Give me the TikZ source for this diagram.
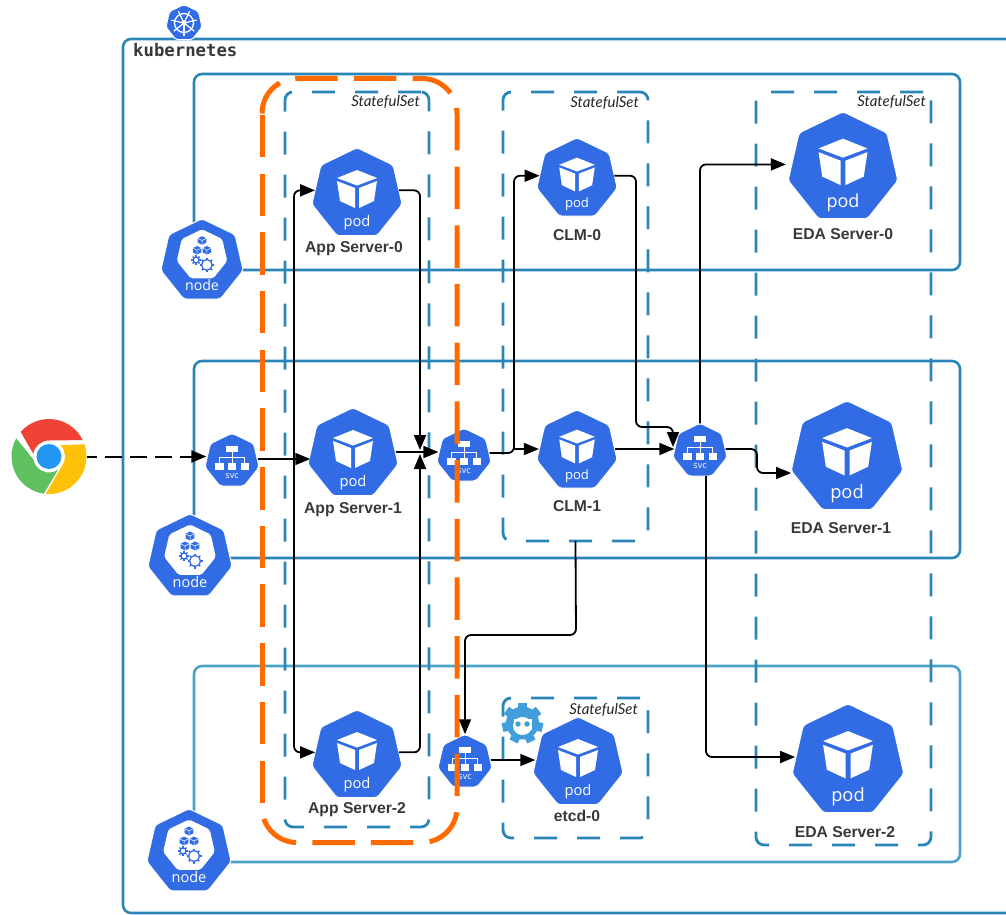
\documentclass[tikz,border=0pt]{standalone}
\usepackage{fontspec}
\setmainfont{Liberation Sans}
\newfontfamily\iconfont{Open Sans}
\newfontfamily\ssfont{Lato}
\newfontfamily\kfont{DejaVu Sans Mono}
\usetikzlibrary{arrows.meta,shapes.geometric,calc}
\definecolor{kblue}{HTML}{326CE5}
\definecolor{boxblue}{HTML}{2A86B8}
\definecolor{boxlight}{HTML}{4BA3C7}
\definecolor{kor}{HTML}{FF6A00}
\definecolor{etcdblue}{HTML}{419EDA}
\definecolor{chromegreen}{HTML}{5FC060}
\definecolor{chromeyellow}{HTML}{FFC107}
\definecolor{chromered}{HTML}{F04336}
\definecolor{chromeblue}{HTML}{2196F3}
\tikzset{
  hept/.style={regular polygon,regular polygon sides=7,fill=kblue,draw=white,line width=1pt,inner sep=0pt,outer sep=0pt,rounded corners=3pt},
  rowbox/.style={draw=boxblue,line width=2.6pt,rounded corners=8pt,inner sep=0pt,outer sep=0pt,anchor=north west},
  ssbox/.style={draw=boxblue,line width=2.8pt,rounded corners=8pt,inner sep=0pt,outer sep=0pt,anchor=north west,dash pattern=on 23pt off 20pt},
  orbox/.style={draw=kor,line width=5pt,rounded corners=35pt,dash pattern=on 42.5pt off 16.2pt},
  conn/.style={draw=black,line width=1.8pt,rounded corners=6pt,-{Triangle[length=15pt,width=12pt]}},
  lab/.style={font=\fontsize{15.7}{18}\selectfont\bfseries,text=black!78,inner sep=0pt},
  sslab/.style={font=\ssfont\fontsize{15}{17}\selectfont\itshape,text=black!85,inner sep=0pt},
  iconlab/.style={text=white,inner sep=0pt},
}
% pod icon: name, x, y, r
\newcommand{\kpod}[4]{%
  \node[hept,minimum size=#4*2pt+2.5pt] (#1) at (#2,#3) {};
  \pgfmathsetmacro\kscl{#4/45}
  \begin{scope}[shift={(#2,#3)},x=\kscl pt,y=-\kscl pt]
    \fill[white] (0,-24) -- (20,-16) -- (0,-8.5) -- (-20,-16) -- cycle;
    \fill[white] (-20,-13) -- (-2,-6) -- (-2,14) -- (-17,7) -- cycle;
    \fill[white] (20,-13) -- (2,-6) -- (2,14) -- (17,7) -- cycle;
    \node[iconlab,scale=\kscl,font=\iconfont\fontsize{14.7}{16}\selectfont] (#1-t) at (0,28.5) {pod};
  \end{scope}
}
% svc icon
\newcommand{\ksvc}[4]{%
  \node[hept,minimum size=#4*2pt+1.5pt] (#1) at (#2,#3) {};
  \pgfmathsetmacro\kscl{#4/27}
  \begin{scope}[shift={(#2,#3)},x=\kscl pt,y=-\kscl pt]
    \fill[white] (-6,-15.5) rectangle (6,-9.5);
    \fill[white] (-17,2) rectangle (-8.5,9);
    \fill[white] (-4.2,2) rectangle (4.2,9);
    \fill[white] (8.5,2) rectangle (17,9);
    \draw[white,line width=1pt] (0,-10) -- (0,2) (0,-3.5) -- (-12.7,-3.5) -- (-12.7,2) (0,-3.5) -- (12.7,-3.5) -- (12.7,2);
    \node[iconlab,scale=\kscl,font=\iconfont\fontsize{9}{10}\selectfont] (#1-t) at (0,15.5) {svc};
  \end{scope}
}
\newcommand{\kcube}[3]{%
  \fill[kblue] (#1,#2-#3) -- (#1+#3,#2-#3*0.5) -- (#1+#3,#2+#3*0.5) -- (#1,#2+#3) -- (#1-#3,#2+#3*0.5) -- (#1-#3,#2-#3*0.5) -- cycle;
  \draw[white,line width=0.5pt] (#1-#3,#2-#3*0.5) -- (#1,#2) -- (#1+#3,#2-#3*0.5) (#1,#2) -- (#1,#2+#3);
}
\newcommand{\kgear}[3]{%
  \foreach \ka in {0,45,...,315} {\draw[kblue,line width=1.4pt] ($(#1,#2)+(\ka:#3)$) -- ($(#1,#2)+(\ka:#3+2)$);}
  \draw[kblue,fill=white,line width=1.3pt] (#1,#2) circle[radius=#3];
}
% node icon
\newcommand{\knode}[4]{%
  \node[hept,minimum size=#4*2pt+2.5pt] (#1) at (#2,#3) {};
  \pgfmathsetmacro\kscl{#4/42}
  \begin{scope}[shift={(#2,#3)},x=\kscl pt,y=-\kscl pt]
    \node[regular polygon,regular polygon sides=7,fill=white,minimum size=\kscl*53pt,inner sep=0pt,rounded corners=2pt] (#1-w) at (0,-6) {};
    \kcube{0}{-21}{4.4}
    \kcube{-5}{-11}{4.4}
    \kcube{5}{-11}{4.4}
    \kgear{-6}{-1}{3}
    \kgear{5}{4}{5.5}
    \node[iconlab,scale=\kscl,font=\iconfont\fontsize{14.5}{16}\selectfont] (#1-t) at (0,25) {node};
  \end{scope}
}
\begin{document}
\begin{tikzpicture}[x=1pt,y=-1pt]
\useasboundingbox (0,0) rectangle (1006,915);
\clip (0,0) rectangle (1006,915);
% containers
\node[rowbox,minimum width=920pt,minimum height=874pt] (cluster) at (123,39) {};
\node[rowbox,minimum width=766pt,minimum height=196pt] (row0) at (194,74) {};
\node[rowbox,minimum width=766pt,minimum height=197pt] (row1) at (194,361) {};
\node[rowbox,draw=boxlight,minimum width=766pt,minimum height=196pt] (row2) at (194,666) {};
\node[ssbox,minimum width=144pt,minimum height=735pt] (ssapp) at (285,92) {};
\node[ssbox,minimum width=145pt,minimum height=449pt] (ssclm) at (503,92) {};
\node[ssbox,minimum width=175pt,minimum height=753pt] (sseda) at (756,92) {};
\node[ssbox,minimum width=145pt,minimum height=140pt] (ssetcd) at (503,698) {};
\node[sslab,anchor=east] (ssl0) at (420,102) {StatefulSet};
\node[sslab,anchor=east] (ssl1) at (639,103) {StatefulSet};
\node[sslab,anchor=east] (ssl2) at (926,102) {StatefulSet};
\node[sslab,anchor=east] (ssl3) at (638,710) {StatefulSet};
% kubernetes logo
\node[hept,minimum size=37pt,rounded corners=2pt] (klogo) at (184,23) {};
\draw[white,line width=1.3pt] (klogo.center) circle[radius=9.5];
\foreach \ka in {90,141.4,...,450} {\draw[white,line width=1.2pt] (klogo.center) -- ++(\ka:13);}
\fill[white] (klogo.center) circle[radius=2.5];
\node[font=\kfont\bfseries\fontsize{17.3}{19}\selectfont,text=black!78,anchor=west,inner sep=0pt] (ktext) at (133,50) {kubernetes};
% etcd logo
\foreach \ka in {0,51.4,...,309} {\fill[etcdblue,rotate around={\ka:(522.5,723)}] (518,702.5) rectangle (527,712);}
\fill[etcdblue] (522.5,723) circle[radius=16.5];
\fill[white] (522.5,726) ellipse[x radius=9.5,y radius=9];
\fill[white] (513.5,719) -- (531.5,719) -- (531.5,730) -- (513.5,730) -- cycle;
\fill[etcdblue] (518,724) circle[radius=2.7];
\fill[etcdblue] (527,724) circle[radius=2.7];
% icons
\kpod{app0}{357}{194}{45}
\kpod{app1}{353}{454}{45}
\kpod{app2}{357}{756}{45}
\kpod{clm0}{577}{179}{40}
\kpod{clm1}{577}{451}{40}
\kpod{eda0}{843}{168}{55}
\kpod{eda1}{847}{458}{56}
\kpod{eda2}{848}{761}{56}
\kpod{etcd0}{578}{763}{45}
\ksvc{svc0}{232}{461}{27}
\ksvc{svc1}{464}{456}{27}
\ksvc{svc2}{700}{451}{27}
\ksvc{svc3}{465}{762}{27}
\knode{n0}{202}{261}{41}
\knode{n1}{190}{557}{42}
\knode{n2}{189}{852}{42}
% labels
\node[lab] (l0) at (354,249) {App Server-0};
\node[lab] (l1) at (353,510) {App Server-1};
\node[lab] (l2) at (357,810) {App Server-2};
\node[lab] (l3) at (577,235.5) {CLM-0};
\node[lab] (l4) at (577,506.5) {CLM-1};
\node[lab] (l5) at (843,234) {EDA Server-0};
\node[lab] (l6) at (841,528.5) {EDA Server-1};
\node[lab] (l7) at (845,832.5) {EDA Server-2};
\node[lab] (l8) at (577,815.5) {etcd-0};
% chrome
\node[circle,minimum size=75pt,inner sep=0pt,outer sep=0pt] (chrome) at (49,456.5) {};
\begin{scope}[shift={(49,456.5)}]
  \fill[chromegreen] (209:37.5) arc[start angle=209,end angle=98,radius=37.5] -- (55:16) arc[start angle=55,end angle=170,radius=16] -- cycle;
  \fill[chromeyellow] (-19:37.5) arc[start angle=-19,end angle=95,radius=37.5] -- (35:16) arc[start angle=35,end angle=-45,radius=16] -- cycle;
  \fill[chromered] (-139:37.5) arc[start angle=-139,end angle=-26,radius=37.5] -- (0,-16) arc[start angle=-90,end angle=-170,radius=16] -- cycle;
  \fill[chromeblue] (0,0) circle[radius=12.5];
\end{scope}
% highlight
\draw[orbox,dash phase=5.5pt] (262,113.5) -- (262,78.5) -- (457,78.5) -- (457,842.5) -- (262,842.5) -- (262,807.5);
\draw[orbox] (262,803) -- (262,115);
% way points
\coordinate (ja) at (420,450);
\coordinate (jb) at (420,454);
\coordinate (ji) at (420,452);
\coordinate (jc) at (514,453);
\coordinate (jc2) at (514,449);
\coordinate (jd) at (636,427);
\coordinate (je) at (673,447);
\coordinate (jf) at (757,449);
\coordinate (jf2) at (757,473);
\coordinate (jg) at (576,635);
\coordinate (jh) at (294,459);
\coordinate (jm) at (706,757);
\coordinate (jk) at (491,760);
% connectors
\draw[conn,line width=2pt,dash pattern=on 17pt off 8pt,dash phase=7pt] (chrome.east) -- (svc0.west |- chrome.east);
\draw[conn] (svc0.east |- jh) -- (app1.west |- jh);
\draw[conn] (jh) |- (app0.175);
\draw[conn] (jh) |- (app2.175);
\draw[conn] (app0.5) -| (ja);
\draw[conn] (app2.5) -| (jb);
\draw[conn] (app1.east |- ji) -- (svc1.west |- ji);
\draw[conn] (jc2) -- (clm1.west |- jc2);
\draw[conn] (svc1.east |- jc) -- (jc) |- (clm0.175);
\draw[conn] (clm0.5) -| (jd) -| (je);
\draw[conn] (clm1.east |- jc2) -- (svc2.west |- jc2);
\draw[conn,shorten >=6pt] (svc2.north) |- (eda0.176);
\draw[conn,shorten >=3pt] (svc2.east |- jf) -- (jf) -- (jf2) -- (eda1.west |- jf2);
\draw[conn] (svc2.south -| jm) -- (jm) -- (eda2.west |- jm);
\draw[conn] (ssclm.south) -- (jg) -| (svc3.north);
\draw[conn] (svc3.east |- jk) -- (etcd0.west |- jk);
\end{tikzpicture}
\end{document}
